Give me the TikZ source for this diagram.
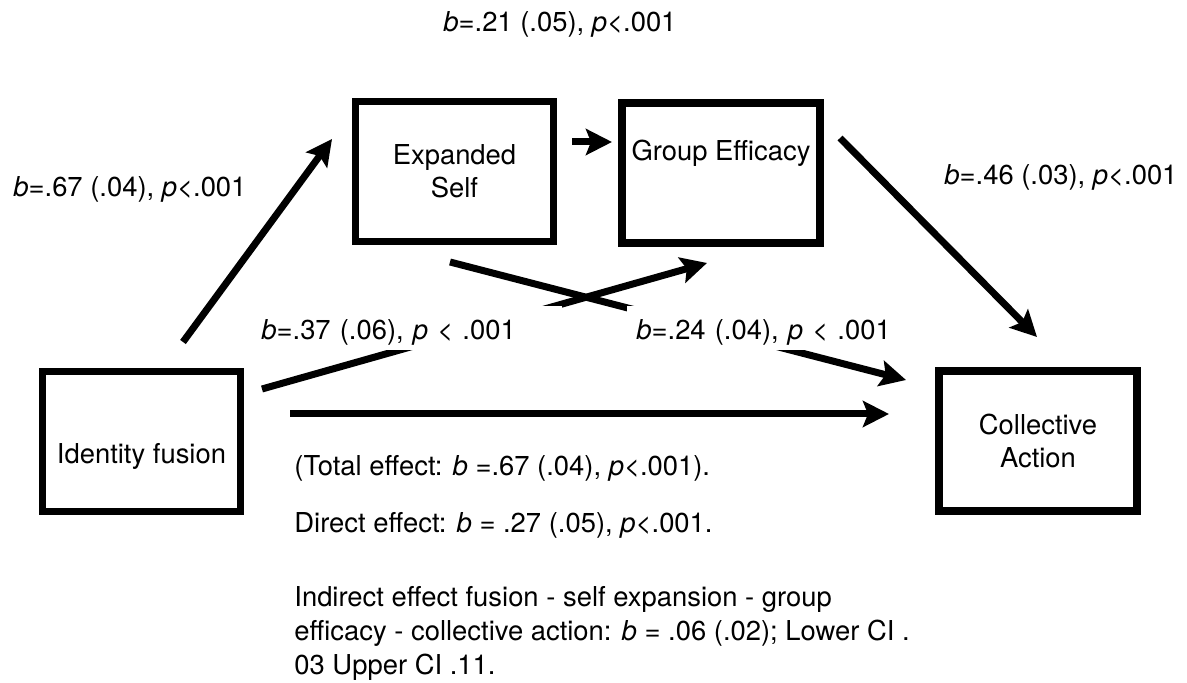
\documentclass[tikz,border=0pt]{standalone}
\usepackage{fontspec}
\setmainfont{TeX Gyre Heros}
\usetikzlibrary{arrows.meta, positioning}

\tikzset{
  every node/.style={font=\fontsize{13.7pt}{17pt}\selectfont},
  box/.style={draw, line width=3.75pt, minimum width=99pt, minimum height=70pt,
              align=center, inner sep=2pt, font=\fontsize{13.7pt}{16.5pt}\selectfont},
  effect/.style={-{Stealth[length=13pt, width=13pt, inset=2.5pt]}, line width=3.5pt},
  coef/.style={anchor=base west, inner sep=0pt},
  coefcut/.style={coef, fill=white, inner xsep=4.5pt, text height=17pt, text depth=5pt,
                  text width=146pt, align=left},
  note/.style={anchor=base west, inner sep=0pt, align=left}
}

\begin{document}
\begin{tikzpicture}[x=0.5pt, y=-0.5pt]
    \useasboundingbox (0,0) rectangle (1187,683);

    % Variables
    \node[box, text height=22.5pt, text depth=0pt] (fusion) at (141.5,441.5) {Identity fusion};
    \node[box] (expself) at (454.5,171.5) {Expanded\\Self};
    \node[box, text height=0pt, text depth=12pt] (efficacy) at (721,173) {Group Efficacy};
    \node[box] (action) at (1038,441) {Collective\\Action};

    % Paths
    \draw[effect] ([shift={(41.5,-99.5)}]fusion.center) -- ([shift={(-122.5,-32.5)}]expself.center);
    \draw[effect] ([shift={(117.5,-29.5)}]expself.center) -- ([shift={(-109,-31)}]efficacy.center);
    \draw[effect] ([shift={(119,-35)}]efficacy.center) -- ([shift={(-1,-104)}]action.center);
    \draw[effect] ([shift={(120.5,-52.5)}]fusion.center) -- ([shift={(-14,90)}]efficacy.center);
    \draw[effect] ([shift={(-4.5,90.5)}]expself.center) -- ([shift={(-132,-61)}]action.center);
    \draw[effect] ([shift={(148.5,-27.5)}]fusion.center) -- ([shift={(-149,-27)}]action.center);

    % Coefficients
    \node[coef] (es2ge) at (443,32) {\textit{b}=.21 (.05), \textit{p}<.001};
    \node[coef] (if2es) at (13,197) {\textit{b}=.67 (.04), \textit{p}<.001};
    \node[coef] (ge2ca) at (944,185) {\textit{b}=.46 (.03), \textit{p}<.001};
    \node[coefcut] (if2ge) at (252,340) {\textit{b}=.37 (.06), \textit{p} < .001};
    \node[coefcut] (es2ca) at (627,340) {\textit{b}=.24 (.04), \textit{p} < .001};

    % Effects
    \node[note] (total) at (294,475) {(Total effect: \textit{b} =.67 (.04), \textit{p}<.001).};
    \node[note] (direct) at (294,532) {Direct effect: \textit{b} = .27 (.05), \textit{p}<.001.};
    \node[note] (indirect) at (294,674) {Indirect effect fusion - self expansion - group\\
        efficacy - collective action: \textit{b} = .06 (.02); Lower CI .\\
        03 Upper CI .11.};
\end{tikzpicture}
\end{document}
